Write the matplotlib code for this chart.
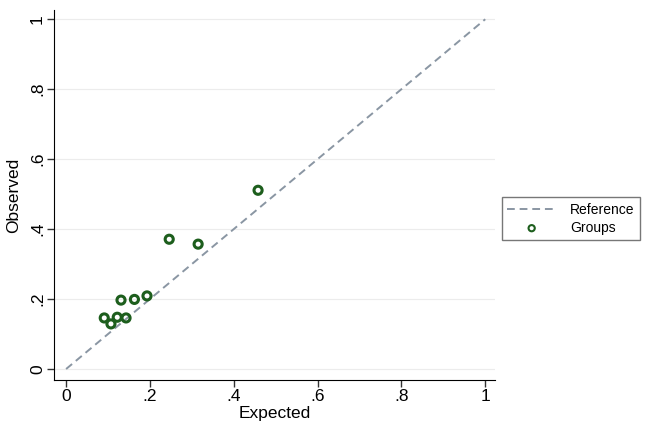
import matplotlib
matplotlib.use("Agg")
import matplotlib.pyplot as plt

plt.rcParams['font.family'] = ['Liberation Sans', 'DejaVu Sans']

# calibration groups (expected vs observed)
expected = [0.091, 0.107, 0.122, 0.143, 0.131, 0.163, 0.193, 0.246, 0.315, 0.458]
observed = [0.146, 0.129, 0.148, 0.146, 0.197, 0.199, 0.209, 0.371, 0.357, 0.511]

ref_line = [0, 1]
ticks = [0, 0.2, 0.4, 0.6, 0.8, 1]
tick_labels = ['0', '.2', '.4', '.6', '.8', '1']

fig = plt.figure(figsize=(6.5, 4.23), dpi=100)
ax = fig.add_axes([0.083, 0.102, 0.679, 0.874])

for t in ticks:
    ax.axhline(t, color='#ececec', lw=0.8, zorder=0)

ax.plot(ref_line, ref_line, linestyle=(0, (4, 2.5)), color='#8a96a3', lw=1.4, label='Reference')
ax.scatter(expected, observed, s=34, facecolors='none', edgecolors='#1d5e1d',
           linewidths=2.2, label='Groups', zorder=3)

ax.set_xlim(-0.029, 1.024)
ax.set_ylim(-0.031, 1.026)
ax.set_xticks(ticks)
ax.set_xticklabels(tick_labels, fontsize=12.5)
ax.set_yticks(ticks)
ax.set_yticklabels(tick_labels, fontsize=12.5, rotation=90, va='center')
ax.set_xlabel('Expected', fontsize=12.5, labelpad=1.5)
ax.set_ylabel('Observed', fontsize=12.5, labelpad=6)
ax.spines['top'].set_visible(False)
ax.spines['right'].set_visible(False)
ax.tick_params(length=5, width=1, color='#333333', pad=1.5)

leg = fig.legend(loc='upper left', bbox_to_anchor=(0.772, 0.534), fontsize=10,
                 frameon=True, fancybox=False, edgecolor='#555555',
                 handlelength=3.5, borderpad=0.4, labelspacing=0.3,
                 handletextpad=1.0, borderaxespad=0)
leg.get_frame().set_linewidth(1.0)
leg.legend_handles[1].set_sizes([20])
leg.legend_handles[1].set_linewidths(1.5)

fig.savefig('out.png', dpi=100)
